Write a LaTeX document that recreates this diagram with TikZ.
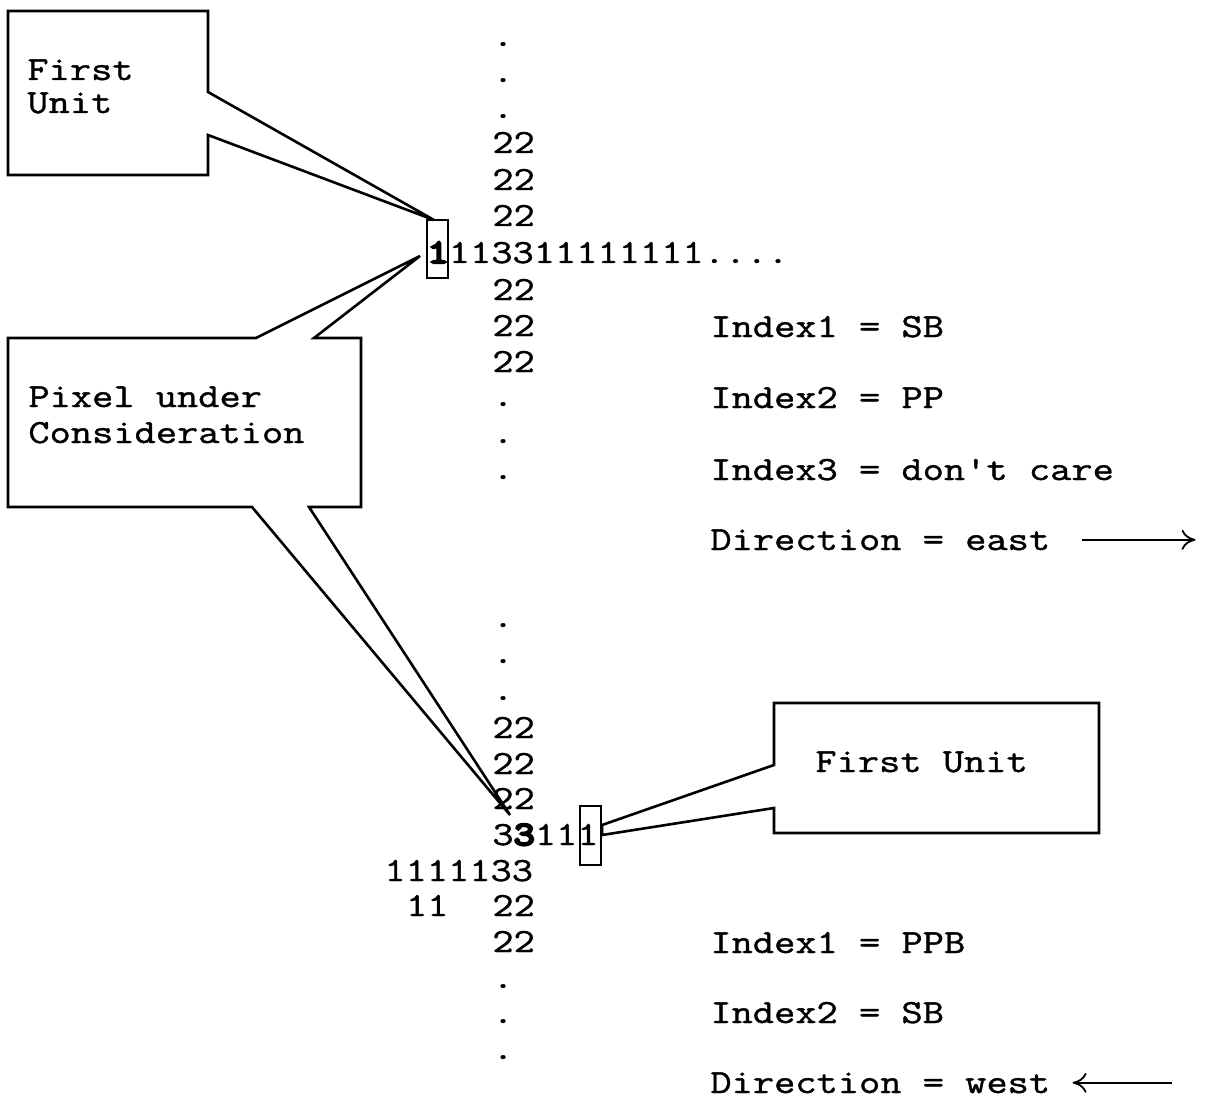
\documentclass[tikz,border=0pt]{standalone}
\usepackage{fontspec}
\usetikzlibrary{arrows.meta}
\newfontfamily\typewr{Latin Modern Mono}[FakeStretch=1.22,FakeBold=1.2]
\newfontfamily\typewrbf{Latin Modern Mono}[FakeStretch=1.22,FakeBold=7]

\begin{document}
\begin{tikzpicture}[x=0.5pt,y=-0.5pt,line join=miter,>={To[length=7pt,width=10pt]}]
	\tikzset{txt/.style={inner sep=0pt,anchor=base west,font=\fontsize{16.9}{18}\typewr},
		callout/.style={draw,line width=1.3pt},
		pixbox/.style={draw,line width=1.1pt,inner sep=0pt,minimum width=10.5pt}}
	\useasboundingbox (0,0) rectangle (1222,1102);
	% upper cross
	\foreach \y [count=\i] in {46,82,118,406,443,479}
	\node[txt] (dotA\i) at (492,\y) {.};
	\foreach \y [count=\i] in {153,190,226,300,336,372}
	\node[txt] (twoA\i) at (492,\y) {22};
	\node[txt] (rowA) at (427.2,263) {{\typewrbf 1}113311111111....};
	\node[pixbox,minimum height=29pt] (pixA) at (437.5,249) {};
	% lower cross
	\foreach \y [count=\i] in {627,663,700,988,1023,1059}
	\node[txt] (dotB\i) at (492,\y) {.};
	\foreach \y [count=\i] in {738,774,809,916,952}
	\node[txt] (twoB\i) at (492,\y) {22};
	\node[txt] (rowB) at (492,845) {3{\typewrbf 3}111};
	\node[txt] (rowC) at (384,881) {1111133};
	\node[txt] (rowD) at (405.6,916) {11};
	\node[pixbox,minimum height=29.5pt] (pixB) at (590.5,835.5) {};
	% callouts
	\coordinate (tipA) at (434,220);
	\coordinate (tipB) at (420,256);
	\coordinate (tipC) at (510,815);
	\draw[callout] (8,11) -- (208,11) -- (208,92) -- (tipA) -- (208,135) -- (208,175) -- (8,175) -- cycle;
	\node[txt] (unitA1) at (27,80) {First};
	\node[txt] (unitA2) at (27,113) {Unit};
	\draw[callout] (8,338) -- (256,338) -- (tipB) -- (314,338) -- (361,338) -- (361,507)
		-- (309,507) -- (tipC) -- (252,507) -- (8,507) -- cycle;
	\node[txt] (pixel1) at (28,407) {Pixel under};
	\node[txt] (pixel2) at (28,443) {Consideration};
	\draw[callout] (774,703) -- (1099,703) -- (1099,833) -- (774,833) -- (774,808)
		-- (pixB.east |- 0,835) -- (pixB.east |- 0,825) -- (774,765) -- cycle;
	\node[txt] (unitB) at (815,772) {First Unit};
	% indices
	\node[txt] (idxA1) at (710,337) {Index1 = SB};
	\node[txt] (idxA2) at (710,408) {Index2 = PP};
	\node[txt] (idxA3) at (710,480) {Index3 = don't care};
	\node[txt] (dirA) at (710,550) {Direction = east};
	\draw[->,line width=0.9pt] ([xshift=15.5pt]dirA.east) -- ++(114,0);
	\node[txt] (idxB1) at (710,953) {Index1 = PPB};
	\node[txt] (idxB2) at (710,1023) {Index2 = SB};
	\node[txt] (dirB) at (710,1093) {Direction = west};
	\draw[<-,line width=0.9pt] ([xshift=11pt]dirB.east) -- ++(99,0);
\end{tikzpicture}
\end{document}
